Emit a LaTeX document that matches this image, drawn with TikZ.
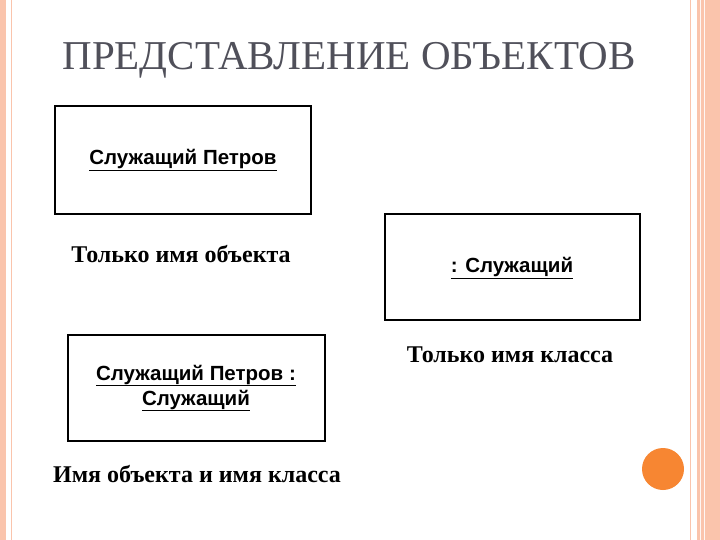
\documentclass[tikz,border=0pt]{standalone}
\usepackage{fontspec}
\setmainfont{Liberation Serif}
\newfontfamily\boxfont{Liberation Sans}
\definecolor{salmon}{RGB}{250,196,172}
\definecolor{titlegray}{RGB}{80,80,90}
\definecolor{dotorange}{RGB}{247,134,50}
\begin{document}
\begin{tikzpicture}[x=1pt,y=-1pt,
  objbox/.style={draw=black,line width=1.4pt,fill=white},
  boxtext/.style={font=\boxfont\bfseries\fontsize{20.5}{25}\selectfont,align=center},
  lbl/.style={font=\bfseries\fontsize{24}{28}\selectfont}]
\useasboundingbox (0,0) rectangle (720,540);
\fill[white] (0,0) rectangle (720,540);
% side decoration
\fill[salmon] (0,0) rectangle (6,540);
\draw[salmon,line width=1pt] (11,0) -- (11,540);
\draw[salmon,line width=1pt] (690,0) -- (690,540);
\fill[salmon] (697,0) rectangle (720,540);
\draw[white!85!salmon,line width=0.8pt] (700,0) -- (700,540);
\draw[white!85!salmon,line width=0.6pt] (704,0) -- (704,540);
\fill[dotorange] (663,469) circle (21);
% title
\node[font=\fontsize{41}{44}\selectfont,text=titlegray] (title) at (349,60) {ПРЕДСТАВЛЕНИЕ ОБЪЕКТОВ};
% boxes
\draw[objbox] (55,106) rectangle (311,214);
\node[boxtext] (b1) at (183,160) {\underline{Служащий Петров}};
\draw[objbox] (385,214) rectangle (640,320);
\node[boxtext] (b2) at (512,268) {\underline{: Служащий}};
\draw[objbox] (68,335) rectangle (325,441);
\node[boxtext] (b3) at (196,388) {\underline{Служащий Петров :}\\\underline{Служащий}};
% labels
\node[lbl] (l1) at (181,254) {Только имя объекта};
\node[lbl] (l2) at (510,355) {Только имя класса};
\node[lbl] (l3) at (197,474) {Имя объекта и имя класса};
\end{tikzpicture}
\end{document}
